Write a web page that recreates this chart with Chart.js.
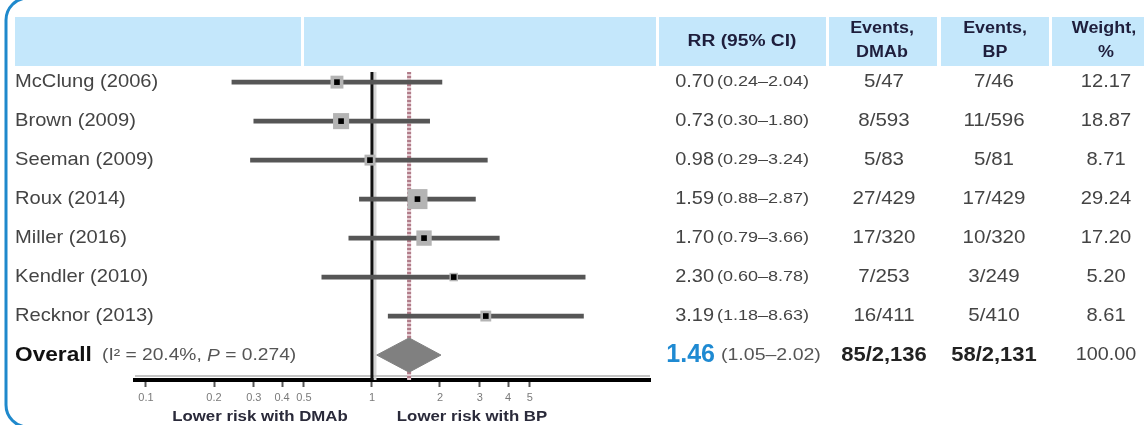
<!DOCTYPE html>
<html>
<head>
<meta charset="utf-8">
<script src="https://cdn.jsdelivr.net/npm/chart.js@4.4.1/dist/chart.umd.min.js"></script>
<style>
  html, body { margin: 0; padding: 0; background: #ffffff; }
  #wrap { width: 1144px; height: 425px; position: relative; }
</style>
</head>
<body>
<div id="wrap"><canvas id="forest" width="1144" height="425"></canvas></div>
<script>
// Study-level results: denosumab (DMAb) versus bisphosphonates (BP)
const studies    = ['McClung (2006)', 'Brown (2009)', 'Seeman (2009)', 'Roux (2014)', 'Miller (2016)', 'Kendler (2010)', 'Recknor (2013)'];
const rr         = [0.70, 0.73, 0.98, 1.59, 1.70, 2.30, 3.19];
const ciLow      = [0.24, 0.30, 0.29, 0.88, 0.79, 0.60, 1.18];
const ciHigh     = [2.04, 1.80, 3.24, 2.87, 3.66, 8.78, 8.63];
const eventsDmab = ['5/47', '8/593', '5/83', '27/429', '17/320', '7/253', '16/411'];
const eventsBp   = ['7/46', '11/596', '5/81', '17/429', '10/320', '3/249', '5/410'];
const weights    = [12.17, 18.87, 8.71, 29.24, 17.20, 5.20, 8.61];

// Pooled estimate
const overallRR     = 1.46;
const overallLow    = 1.05;
const overallHigh   = 2.02;
const overallDmab   = '85/2,136';
const overallBp     = '58/2,131';
const overallWeight = 100.00;
const iSquared      = '20.4%';
const pHeterogeneity = '0.274';

// Axis
const tickValues = [0.1, 0.2, 0.3, 0.4, 0.5, 1, 2, 3, 4, 5];
const tickLabels = ['0.1', '0.2', '0.3', '0.4', '0.5', '1', '2', '3', '4', '5'];
const nullEffect = 1;

const overallRow = studies.length;
const Y_MIN = -0.26, Y_MAX = 7.64;
const FONT = "'Liberation Sans', Arial, Helvetica, sans-serif";

function txt(ctx, s, x, y, font, color, align, sx) {
  ctx.save();
  ctx.font = font;
  ctx.fillStyle = color;
  ctx.textAlign = align || 'left';
  ctx.textBaseline = 'middle';
  ctx.translate(x, y);
  ctx.scale(sx || 1, 1);
  ctx.fillText(s, 0, 0);
  ctx.restore();
}
function width(ctx, s, font, sx) {
  ctx.save(); ctx.font = font; const w = ctx.measureText(s).width * (sx || 1); ctx.restore(); return w;
}

// Header bands, left bracket, shadow strips
const framePlugin = {
  id: 'frame',
  beforeDraw(chart) {
    const ctx = chart.ctx;
    ctx.save();
    ctx.fillStyle = '#ffffff';
    ctx.fillRect(0, 0, chart.width, chart.height);
    ctx.fillStyle = '#c4e7fb';
    const cols = [[15, 301], [304, 656], [659, 826], [829, 937], [941, 1049], [1052, 1144]];
    cols.forEach(([a, b]) => ctx.fillRect(a, 17, b - a, 49));
    // rounded bracket on the left
    ctx.strokeStyle = '#1f89cc';
    ctx.lineWidth = 3;
    ctx.beginPath();
    ctx.moveTo(30, -2);
    ctx.arcTo(6, -2, 6, 30, 22);
    ctx.lineTo(6, 400);
    ctx.arcTo(6, 427, 30, 427, 22);
    ctx.stroke();
    ctx.restore();
  },
  beforeDatasetsDraw(chart) {
    const ctx = chart.ctx, x = chart.scales.x, a = chart.chartArea;
    ctx.save();
    ctx.strokeStyle = '#d6d6d6';
    ctx.lineWidth = 3;
    const px = x.getPixelForValue(nullEffect) + 3;
    ctx.beginPath(); ctx.moveTo(px, a.top); ctx.lineTo(px, a.bottom); ctx.stroke();
    ctx.lineWidth = 2;
    ctx.strokeStyle = '#c4c4c4';
    ctx.beginPath(); ctx.moveTo(a.left, a.bottom - 4); ctx.lineTo(a.right, a.bottom - 4); ctx.stroke();
    ctx.restore();
  }
};

// Table text and axis captions
const tablePlugin = {
  id: 'table',
  afterDraw(chart) {
    const ctx = chart.ctx, y = chart.scales.y;
    const body = '19px ' + FONT;
    const small = '15px ' + FONT;
    const head = 'bold 16px ' + FONT;
    const ink = '#444444';

    // header
    const hc = '#1e1e3c';
    txt(ctx, 'RR (95% CI)', 742, 42, head, hc, 'center', 1.2);
    txt(ctx, 'Events,', 882, 29, head, hc, 'center', 1.12);
    txt(ctx, 'DMAb', 882, 53, head, hc, 'center', 1.12);
    txt(ctx, 'Events,', 995, 29, head, hc, 'center', 1.12);
    txt(ctx, 'BP', 995, 53, head, hc, 'center', 1.12);
    txt(ctx, 'Weight,', 1104, 29, head, hc, 'center', 1.12);
    txt(ctx, '%', 1106, 53, head, hc, 'center', 1.12);

    studies.forEach((s, i) => {
      const py = y.getPixelForValue(i);
      txt(ctx, s, 15, py, body, ink, 'left', 1.06);
      txt(ctx, rr[i].toFixed(2), 714, py, body, ink, 'right', 1.05);
      txt(ctx, '(' + ciLow[i].toFixed(2) + '\u2013' + ciHigh[i].toFixed(2) + ')', 717, py, small, ink, 'left', 1.2);
      txt(ctx, eventsDmab[i], 884, py, body, ink, 'center', 1.08);
      txt(ctx, eventsBp[i], 994, py, body, ink, 'center', 1.08);
      txt(ctx, weights[i].toFixed(2), 1106, py, body, ink, 'center', 1.06);
    });

    // pooled row
    const oy = y.getPixelForValue(overallRow);
    const ob = 'bold 21px ' + FONT;
    txt(ctx, 'Overall', 15, oy, ob, '#111111', 'left', 1.08);
    const hf = '16px ' + FONT, hfi = 'italic 16px ' + FONT, hcol = '#555555', hs = 1.2;
    let hx = 102;
    const seg = (s, f) => { txt(ctx, s, hx, oy + 1, f, hcol, 'left', hs); hx += width(ctx, s, f, hs); };
    seg('(I\u00b2 = ' + iSquared + ', ', hf);
    seg('P', hfi);
    seg(' = ' + pHeterogeneity + ')', hf);

    txt(ctx, overallRR.toFixed(2), 715, oy, 'bold 25px ' + FONT, '#1f8ad2', 'right', 1.0);
    txt(ctx, '(' + overallLow.toFixed(2) + '\u2013' + overallHigh.toFixed(2) + ')', 721, oy + 1, '16px ' + FONT, '#555555', 'left', 1.22);
    txt(ctx, overallDmab, 884, oy, 'bold 20px ' + FONT, '#222222', 'center', 1.1);
    txt(ctx, overallBp, 994, oy, 'bold 20px ' + FONT, '#222222', 'center', 1.1);
    txt(ctx, overallWeight.toFixed(2), 1106, oy, body, ink, 'center', 1.04);

    // direction captions
    const cap = 'bold 14px ' + FONT;
    txt(ctx, 'Lower risk with DMAb', 260, 417, cap, '#2a2a3a', 'center', 1.2);
    txt(ctx, 'Lower risk with BP', 472, 417, cap, '#2a2a3a', 'center', 1.2);
  }
};

const diamondHalf = 0.44;

new Chart(document.getElementById('forest'), {
  type: 'scatter',
  data: {
    datasets: [
      {
        label: 'Point estimate',
        type: 'scatter',
        data: rr.map((v, i) => ({ x: v, y: i })),
        pointStyle: 'rect',
        pointRadius: 4,
        backgroundColor: '#000000',
        borderWidth: 0,
        order: 0
      },
      {
        label: 'Weight',
        type: 'scatter',
        data: rr.map((v, i) => ({ x: v, y: i })),
        pointStyle: 'rect',
        pointRadius: (c) => 3.7 * Math.sqrt(weights[c.dataIndex]) / Math.SQRT2,
        backgroundColor: '#b4b4b4',
        borderWidth: 0,
        order: 1
      },
      {
        label: '95% CI',
        type: 'bar',
        indexAxis: 'y',
        data: studies.map((s, i) => ({ y: i, x: [ciLow[i], ciHigh[i]] })),
        backgroundColor: '#565656',
        borderWidth: 0,
        barThickness: 4,
        order: 2
      },
      {
        label: 'No effect',
        type: 'line',
        data: [{ x: nullEffect, y: Y_MIN }, { x: nullEffect, y: Y_MAX }],
        borderColor: '#111111',
        borderWidth: 3,
        pointRadius: 0,
        fill: false,
        order: 3
      },
      {
        label: 'Pooled',
        type: 'line',
        data: [
          { x: overallLow, y: overallRow },
          { x: overallRR, y: overallRow - diamondHalf },
          { x: overallHigh, y: overallRow },
          { x: overallRR, y: overallRow + diamondHalf },
          { x: overallLow, y: overallRow }
        ],
        borderColor: '#808080',
        backgroundColor: '#808080',
        borderWidth: 1,
        pointRadius: 0,
        tension: 0,
        fill: 'shape',
        order: 4
      },
      {
        label: 'Pooled estimate line',
        type: 'line',
        data: [{ x: overallRR, y: Y_MIN }, { x: overallRR, y: Y_MAX }],
        borderColor: '#b17c89',
        borderWidth: 4,
        borderDash: [2, 2],
        pointRadius: 0,
        fill: false,
        order: 5
      },
      {
        label: 'Pooled estimate line base',
        type: 'line',
        data: [{ x: overallRR, y: Y_MIN }, { x: overallRR, y: Y_MAX }],
        borderColor: '#e4cbd1',
        borderWidth: 4,
        pointRadius: 0,
        fill: false,
        order: 6
      }
    ]
  },
  options: {
    responsive: false,
    animation: false,
    devicePixelRatio: 1,
    events: [],
    layout: { padding: { left: 135, right: 494, top: 72, bottom: 0 } },
    plugins: { legend: { display: false }, tooltip: { enabled: false } },
    scales: {
      x: {
        type: 'logarithmic',
        min: 0.0894,
        max: 17,
        offset: false,
        afterBuildTicks: (s) => { s.ticks = tickValues.map(v => ({ value: v })); },
        afterFit: (s) => { s.height = 45; },
        ticks: {
          autoSkip: false,
          maxRotation: 0,
          padding: 4,
          color: '#7a7a7a',
          font: { family: FONT, size: 11 },
          callback: (v) => { const k = tickValues.indexOf(v); return k >= 0 ? tickLabels[k] : ''; }
        },
        grid: { offset: false, drawOnChartArea: false, drawTicks: true, tickLength: 7, tickWidth: 2, tickColor: '#555555' },
        border: { display: true, color: '#000000', width: 4 }
      },
      y: {
        type: 'linear',
        reverse: true,
        offset: false,
        grid: { offset: false },
        min: Y_MIN,
        max: Y_MAX,
        display: false
      }
    }
  },
  plugins: [framePlugin, tablePlugin]
});
</script>
</body>
</html>
